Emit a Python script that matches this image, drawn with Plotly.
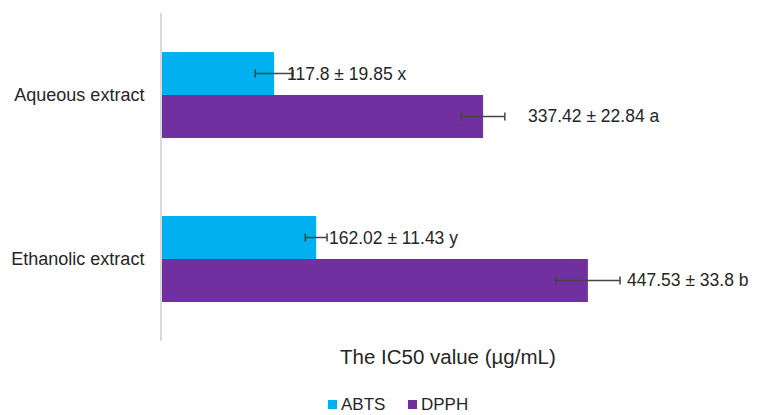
import plotly.graph_objects as go

categories = ["Aqueous extract", "Ethanolic extract"]
abts_values = [117.8, 162.02]
abts_errors = [19.85, 11.43]
abts_letters = ["x", "y"]
dpph_values = [337.42, 447.53]
dpph_errors = [22.84, 33.8]
dpph_letters = ["a", "b"]
series_names = ["ABTS", "DPPH"]

ABTS_COLOR = "#00B0F0"
DPPH_COLOR = "#7030A0"
FONT = "Liberation Sans, Arial, sans-serif"
TEXT_COLOR = "#262626"

# page body has an 8px margin, so the figure is drawn 8px smaller and everything
# is placed in figure coordinates = screen coordinates - 8
OFF = 8
W, H = 760 - OFF, 415 - OFF
ML, MR, MT, MB = 162 - OFF, 27, 13 - OFF, 74
PW, PH = W - ML - MR, H - MT - MB


def px_x(px):
    return (px - OFF - ML) / PW


def px_y(py):
    return (H - MB - (py - OFF)) / PH


BARGAP = 0.476
bar_w = (1 - BARGAP) / 2

fig = go.Figure()
fig.add_trace(go.Bar(
    name=series_names[0], y=categories, x=abts_values, orientation="h",
    marker=dict(color=ABTS_COLOR, line=dict(width=0)),
    error_x=dict(type="data", array=abts_errors, visible=True,
                 color="#454545", thickness=1.5, width=4),
))
fig.add_trace(go.Bar(
    name=series_names[1], y=categories, x=dpph_values, orientation="h",
    marker=dict(color=DPPH_COLOR, line=dict(width=0)),
    error_x=dict(type="data", array=dpph_errors, visible=True,
                 color="#454545", thickness=1.5, width=4),
))

# label offsets (data units) past the error bar end, as placed in the reference
abts_pad = [-7.5, 1.0]
dpph_pad = [23.5, 6.0]
LABEL_SIZE = 17.5

annotations = []
for i in range(len(categories)):
    annotations.append(dict(
        x=abts_values[i] + abts_errors[i] + abts_pad[i], y=i - bar_w / 2,
        xref="x", yref="y", xanchor="left", yanchor="middle", showarrow=False,
        text=f"{abts_values[i]} ± {abts_errors[i]} {abts_letters[i]}",
        font=dict(family=FONT, size=LABEL_SIZE, color=TEXT_COLOR), borderpad=0,
    ))
    annotations.append(dict(
        x=dpph_values[i] + dpph_errors[i] + dpph_pad[i], y=i + bar_w / 2,
        xref="x", yref="y", xanchor="left", yanchor="middle", showarrow=False,
        text=f"{dpph_values[i]} ± {dpph_errors[i]} {dpph_letters[i]}",
        font=dict(family=FONT, size=LABEL_SIZE, color=TEXT_COLOR), borderpad=0,
    ))

# x-axis title
annotations.append(dict(
    x=0.5, y=px_y(356), xref="paper", yref="paper", xanchor="center", yanchor="middle",
    showarrow=False, text="The IC50 value (µg/mL)",
    font=dict(family=FONT, size=20.5, color=TEXT_COLOR),
))

# custom legend (square swatch + text)
shapes = []
legend_items = [(series_names[0], ABTS_COLOR, 328), (series_names[1], DPPH_COLOR, 408)]
for name, color, sx in legend_items:
    shapes.append(dict(type="rect", xref="paper", yref="paper",
                       x0=px_x(sx), x1=px_x(sx + 9), y0=px_y(409), y1=px_y(400),
                       fillcolor=color, line=dict(width=0)))
    annotations.append(dict(
        x=px_x(sx + 12), y=px_y(404), xref="paper", yref="paper",
        xanchor="left", yanchor="middle", showarrow=False, text=name,
        font=dict(family=FONT, size=17, color=TEXT_COLOR), borderpad=0,
    ))

fig.update_layout(
    width=W, height=H,
    margin=dict(l=ML, r=MR, t=MT, b=MB, autoexpand=False),
    paper_bgcolor="white", plot_bgcolor="white",
    barmode="group", bargap=BARGAP, bargroupgap=0,
    font=dict(family=FONT, size=18, color=TEXT_COLOR),
    showlegend=False,
    annotations=annotations,
    shapes=shapes,
    xaxis=dict(range=[0, 600], showgrid=False, zeroline=False, automargin=False,
               showticklabels=False, ticks="", showline=False),
    yaxis=dict(autorange="reversed", showgrid=False, zeroline=False, automargin=False,
               showline=True, linecolor="#D9D9D9", linewidth=2, ticks="",
               ticklabelstandoff=12,
               tickfont=dict(family=FONT, size=18, color=TEXT_COLOR)),
)

fig.write_html("out.html")
